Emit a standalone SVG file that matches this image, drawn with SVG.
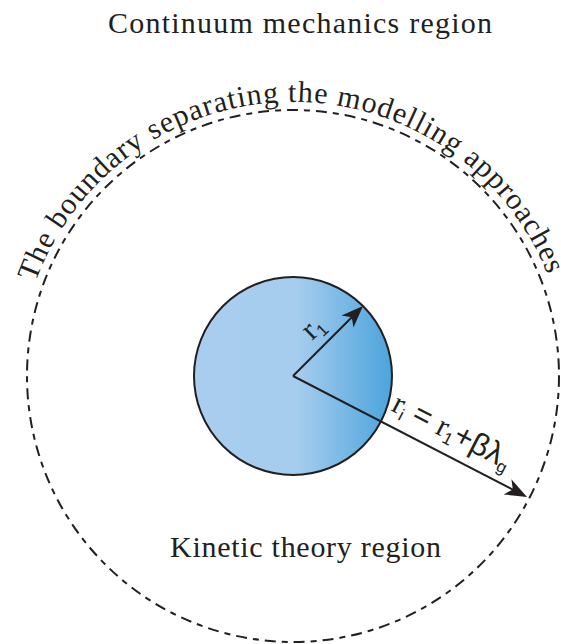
<svg xmlns="http://www.w3.org/2000/svg" xmlns:xlink="http://www.w3.org/1999/xlink" width="561" height="644" viewBox="0 0 561 644">
<style>
.serif{font-family:"Liberation Serif","Times New Roman",serif;fill:#231f20}
.sans{font-family:"Liberation Sans",Arial,sans-serif;fill:#231f20}
.bound{fill:none;stroke:#231f20;stroke-width:2;stroke-dasharray:11 6 6 6}
.arrow{fill:none;stroke:#231f20;stroke-width:2}
</style>
<defs>
<linearGradient id="blue" x1="0" y1="0" x2="1" y2="0">
<stop offset="0" stop-color="#a9cdee"/>
<stop offset="0.52" stop-color="#a6cdee"/>
<stop offset="1" stop-color="#4ba4dc"/>
</linearGradient>
<marker id="head" markerUnits="userSpaceOnUse" markerWidth="26" markerHeight="20" viewBox="-2 -10 26 20" refX="16" refY="0" orient="auto">
<path d="M0,-8.5 L22,0 L0,8.5 L6,0 Z" fill="#231f20"/>
</marker>
<path id="arc" d="M 35.5 282.3 A 274 274 0 0 1 550.5 282.3"/>
</defs>
<text class="serif" x="108" y="33" font-size="30" textLength="384" lengthAdjust="spacing">Continuum mechanics region</text>
<g id="boundary">
<circle class="bound" cx="293" cy="376" r="266"/>
<text class="serif" font-size="30" letter-spacing="1"><textPath xlink:href="#arc" href="#arc">The boundary separating the modelling approaches</textPath></text>
</g>
<g id="particle">
<circle cx="293" cy="376" r="99" fill="url(#blue)" stroke="#231f20" stroke-width="2"/>
</g>
<g id="connectors">
<line class="arrow" x1="293" y1="376" x2="358.8" y2="310.2" marker-end="url(#head)"/>
<line class="arrow" x1="293" y1="376" x2="521.7" y2="494.2" marker-end="url(#head)"/>
</g>
<text transform="translate(312,341) rotate(-44)" font-size="31"><tspan class="serif">r</tspan><tspan class="sans" font-size="17" dy="5">1</tspan></text>
<text transform="translate(390,410) rotate(27.3)" font-size="31"><tspan class="serif">r</tspan><tspan class="sans" font-size="17" dy="5">i</tspan><tspan class="sans" dy="-5"> = </tspan><tspan class="serif">r</tspan><tspan class="sans" font-size="17" dy="5">1</tspan><tspan class="sans" dy="-5">+βλ</tspan><tspan class="sans" font-size="17" dy="5">g</tspan></text>
<text class="serif" x="170" y="557" font-size="30" textLength="271" lengthAdjust="spacing">Kinetic theory region</text>
</svg>
